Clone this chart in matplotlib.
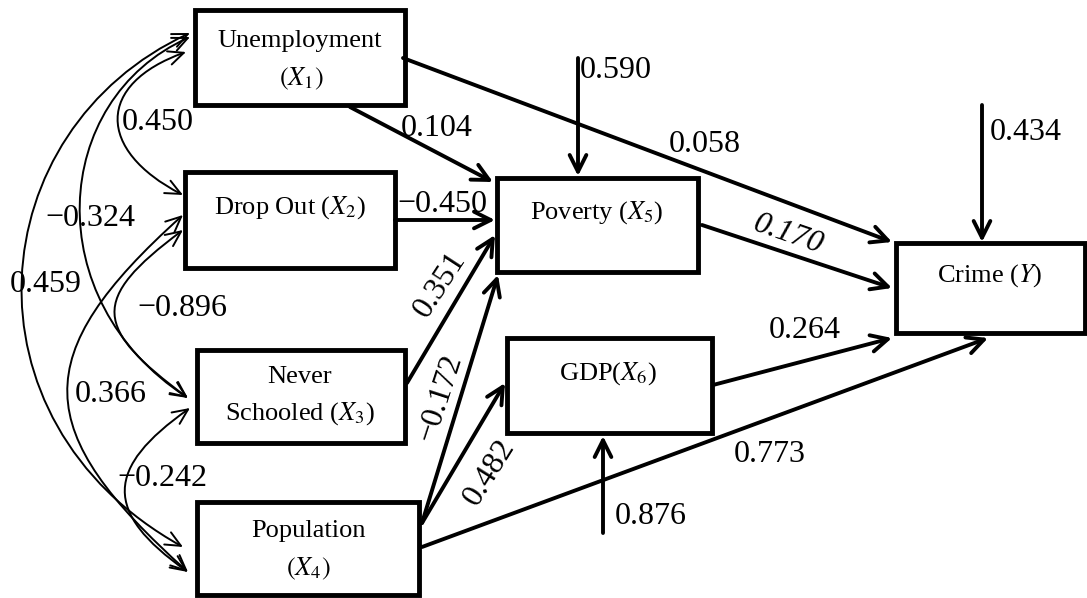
import matplotlib
matplotlib.use("Agg")
import matplotlib.pyplot as plt
from matplotlib.patches import Rectangle, FancyArrowPatch
from matplotlib.path import Path

plt.rcParams['mathtext.fontset'] = 'stix'
SERIF = ['Liberation Serif', 'DejaVu Serif']

# ---------------- data ----------------
node_ids = ["X1", "X2", "X3", "X4", "X5", "X6", "Y"]
node_text = [["Unemployment", "$(X_1)$"], ["Drop Out ($X_2$)"],
             ["Never", "Schooled ($X_3$)"], ["Population", "$(X_4)$"],
             ["Poverty ($X_5$)"], ["GDP($X_6$)"], ["Crime ($Y$)"]]

path_from = ["X1", "X1", "X2", "X3", "X4", "X4", "X4", "X5", "X6"]
path_to = ["Y", "X5", "X5", "X5", "X5", "X6", "Y", "Y", "Y"]
path_coef = [0.058, 0.104, -0.450, 0.351, -0.172, 0.482, 0.773, 0.170, 0.264]

corr_a = ["X1", "X1", "X1", "X2", "X2", "X3"]
corr_b = ["X2", "X3", "X4", "X3", "X4", "X4"]
corr_coef = [0.450, -0.324, 0.459, -0.896, 0.366, -0.242]

err_node = ["X5", "Y", "X6"]
err_coef = [0.590, 0.434, 0.876]

# ---------------- layout (pixel coordinates) ----------------
box = {"X1": (195, 10, 405, 105), "X2": (185, 172, 395, 268),
       "X3": (197, 350, 405, 443), "X4": (197, 502, 419, 595),
       "X5": (497, 178, 698, 272), "X6": (507, 338, 712, 433),
       "Y": (896, 243, 1085, 333)}
text_pos = {"X1": [(300, 41), (301, 79)], "X2": [(290, 208)],
            "X3": [(300, 377), (300, 414)], "X4": [(308, 531), (308, 569)],
            "X5": [(597, 213)], "X6": [(608, 374)], "Y": [(990, 276)]}

arrow_geom = {
    ("X1", "Y"): ((403, 58), (892, 242), (705, 145), 0, 'normal'),
    ("X1", "X5"): ((350, 107), (493, 182), (437, 128), 0, 'normal'),
    ("X2", "X5"): ((395, 220), (495, 220), (442, 204), 0, 'normal'),
    ("X3", "X5"): ((407, 383), (495, 235), (440, 285), 57, 'normal'),
    ("X4", "X5"): ((422, 523), (498, 275), (440, 398), 72, 'normal'),
    ("X4", "X6"): ((422, 523), (505, 383), (489, 472), 58, 'normal'),
    ("X4", "Y"): ((422, 547), (988, 338), (770, 455), 0, 'normal'),
    ("X5", "Y"): ((702, 225), (892, 288), (788, 235), -19, 'italic'),
    ("X6", "Y"): ((713, 385), (892, 338), (805, 331), 0, 'normal'),
}

err_geom = {"X5": ((578, 58), (578, 176), (616, 70)),
            "Y": ((982, 105), (982, 242), (1026, 133)),
            "X6": ((603, 533), (603, 436), (651, 517))}

curve_geom = {
    ("X1", "X2"): ([(186, 52), (96, 84), (96, 150), (183, 195)], (158, 122)),
    ("X1", "X3"): ([(190, 37), (50, 100), (38, 300), (188, 398)], (90, 218)),
    ("X1", "X4"): ([(190, 33), (-20, 130), (-45, 420), (183, 547)], (46, 285)),
    ("X2", "X3"): ([(183, 230), (89, 300), (94, 328), (188, 398)], (182, 309)),
    ("X2", "X4"): ([(183, 215), (26, 356), (31, 431), (188, 572)], (111, 395)),
    ("X3", "X4"): ([(190, 408), (105, 468), (103, 512), (188, 572)], (162, 479)),
}


def fmt(v):
    return f"{v:.3f}".replace('-', '\u2212')


fig = plt.figure(figsize=(10.87, 5.98), dpi=100)
ax = fig.add_axes([0, 0, 1, 1])
ax.set_xlim(0, 1087)
ax.set_ylim(598, 0)
ax.axis('off')

NUM_FS = 23
BOX_FS = 19

# boxes
for nid, lines in zip(node_ids, node_text):
    x0, y0, x1, y1 = box[nid]
    ax.add_patch(Rectangle((x0, y0), x1 - x0, y1 - y0, facecolor='white',
                           edgecolor='black', lw=3.5, zorder=3))
    for (tx, ty), s in zip(text_pos[nid], lines):
        ax.text(tx, ty, s, ha='center', va='center', fontsize=BOX_FS,
                family=SERIF, zorder=5)

# direct paths
for f, t, c in zip(path_from, path_to, path_coef):
    s, e, lp, rot, style = arrow_geom[(f, t)]
    ax.add_patch(FancyArrowPatch(s, e, arrowstyle="->,head_length=12,head_width=6",
                                 mutation_scale=1, lw=2.8, color='black',
                                 shrinkA=0, shrinkB=0, zorder=4))
    ax.text(lp[0], lp[1], fmt(c), ha='center', va='center', fontsize=NUM_FS,
            family=SERIF, rotation=rot, rotation_mode='anchor', style=style, zorder=6)

# error terms
for n, c in zip(err_node, err_coef):
    s, e, lp = err_geom[n]
    ax.add_patch(FancyArrowPatch(s, e, arrowstyle="->,head_length=12,head_width=6",
                                 mutation_scale=1, lw=2.8, color='black',
                                 shrinkA=0, shrinkB=0, zorder=4))
    ax.text(lp[0], lp[1], fmt(c), ha='center', va='center', fontsize=NUM_FS,
            family=SERIF, zorder=6)

# correlations
codes = [Path.MOVETO, Path.CURVE4, Path.CURVE4, Path.CURVE4]
for a, b, c in zip(corr_a, corr_b, corr_coef):
    verts, lp = curve_geom[(a, b)]
    ax.add_patch(FancyArrowPatch(path=Path(verts, codes),
                                 arrowstyle="<->,head_length=11,head_width=5",
                                 mutation_scale=1, lw=1.4, color='black', zorder=2))
    ax.text(lp[0], lp[1], fmt(c), ha='center', va='center', fontsize=NUM_FS,
            family=SERIF, zorder=6)

fig.savefig("out.png", dpi=100)
